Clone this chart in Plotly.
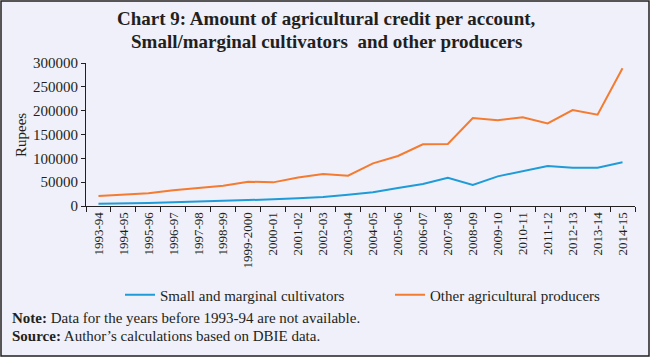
import plotly.graph_objects as go

years = ["1993-94", "1994-95", "1995-96", "1996-97", "1997-98", "1998-99",
         "1999-2000", "2000-01", "2001-02", "2002-03", "2003-04", "2004-05",
         "2005-06", "2006-07", "2007-08", "2008-09", "2009-10", "2010-11",
         "2011-12", "2012-13", "2013-14", "2014-15"]
small_marginal = [4900, 5000, 6300, 7700, 9100, 9800, 11900, 14000, 16100, 18900,
                  23800, 28700, 37800, 46200, 59400, 44000, 62200, 73400, 83900,
                  80400, 80400, 91600]
other_producers = [21000, 23800, 26600, 32900, 37800, 42700, 51000, 49600, 60000, 67100,
                   63600, 89500, 104900, 129400, 130000, 184600, 179700, 186000, 173400,
                   201400, 191600, 288800]
y_ticks = [0, 50000, 100000, 150000, 200000, 250000, 300000]

FONT = "Liberation Serif"
BG = "#eff0f9"
INK = "#231f20"
BLUE = "#1f9bd7"
ORANGE = "#f47b30"

W, H = 652, 360
L, R, T, B = 86, 17, 63, 154
pw, ph = W - L - R, H - T - B

def px_x(x):
    return (x - L) / pw

def px_y(y):
    return (H - B - y) / ph

fig = go.Figure()
fig.add_trace(go.Scatter(x=years, y=small_marginal, mode="lines",
                         name="Small and marginal cultivators",
                         line=dict(color=BLUE, width=2), legend="legend"))
fig.add_trace(go.Scatter(x=years, y=other_producers, mode="lines",
                         name="Other agricultural producers",
                         line=dict(color=ORANGE, width=2), legend="legend2"))

legend_common = dict(orientation="h", xanchor="left", yanchor="middle",
                     bgcolor="rgba(0,0,0,0)", font=dict(family=FONT, size=15, color=INK),
                     itemwidth=30, visible=True)

fig.update_layout(
    width=W, height=H,
    showlegend=True,
    margin=dict(l=L, r=R, t=T, b=B, autoexpand=False),
    paper_bgcolor="white",
    plot_bgcolor="rgba(0,0,0,0)",
    font=dict(family=FONT, size=14, color=INK),
    xaxis=dict(
        type="category", showline=True, linecolor=INK, linewidth=1,
        ticks="outside", ticklen=5, tickcolor=INK, tickson="boundaries",
        tickangle=-90, showgrid=False, zeroline=False,
        tickfont=dict(family=FONT, size=13, color=INK),
        range=[-0.5, len(years) - 0.5],
    ),
    yaxis=dict(
        range=[0, 300000], tickvals=y_ticks, ticktext=[str(v) for v in y_ticks],
        showline=True, linecolor=INK, linewidth=1, ticks="outside", ticklen=4,
        tickcolor=INK, showgrid=False, zeroline=False,
        tickfont=dict(family=FONT, size=15, color=INK),
    ),
    legend=dict(x=px_x(120), y=px_y(295), **legend_common),
    legend2=dict(x=px_x(390), y=px_y(295), **legend_common),
    shapes=[dict(type="rect", xref="paper", yref="paper",
                 x0=px_x(1), x1=px_x(649), y0=px_y(356), y1=px_y(1),
                 fillcolor=BG, line=dict(color=INK, width=1.5), layer="below")],
    annotations=[
        dict(text="<b>Chart 9: Amount of agricultural credit per account,</b>",
             xref="paper", yref="paper", x=px_x(326), y=px_y(18), xanchor="center",
             yanchor="middle", showarrow=False, font=dict(family=FONT, size=19, color=INK)),
        dict(text="<b>Small/marginal cultivators&nbsp; and other producers</b>",
             xref="paper", yref="paper", x=px_x(326), y=px_y(41), xanchor="center",
             yanchor="middle", showarrow=False, font=dict(family=FONT, size=19, color=INK)),
        dict(text="Rupees", textangle=-90,
             xref="paper", yref="paper", x=px_x(21), y=px_y(135), xanchor="center",
             yanchor="middle", showarrow=False, font=dict(family=FONT, size=15, color=INK)),
        dict(text="<b>Note:</b> Data for the years before 1993-94 are not available.",
             xref="paper", yref="paper", x=px_x(10), y=px_y(318), xanchor="left",
             yanchor="middle", showarrow=False, font=dict(family=FONT, size=15, color=INK)),
        dict(text="<b>Source:</b> Author\u2019s calculations based on DBIE data.",
             xref="paper", yref="paper", x=px_x(10), y=px_y(336), xanchor="left",
             yanchor="middle", showarrow=False, font=dict(family=FONT, size=15, color=INK)),
    ],
)

fig.write_html("out.html", config={"displayModeBar": False},
               post_script="document.body.style.margin='0';document.body.style.padding='0';")
